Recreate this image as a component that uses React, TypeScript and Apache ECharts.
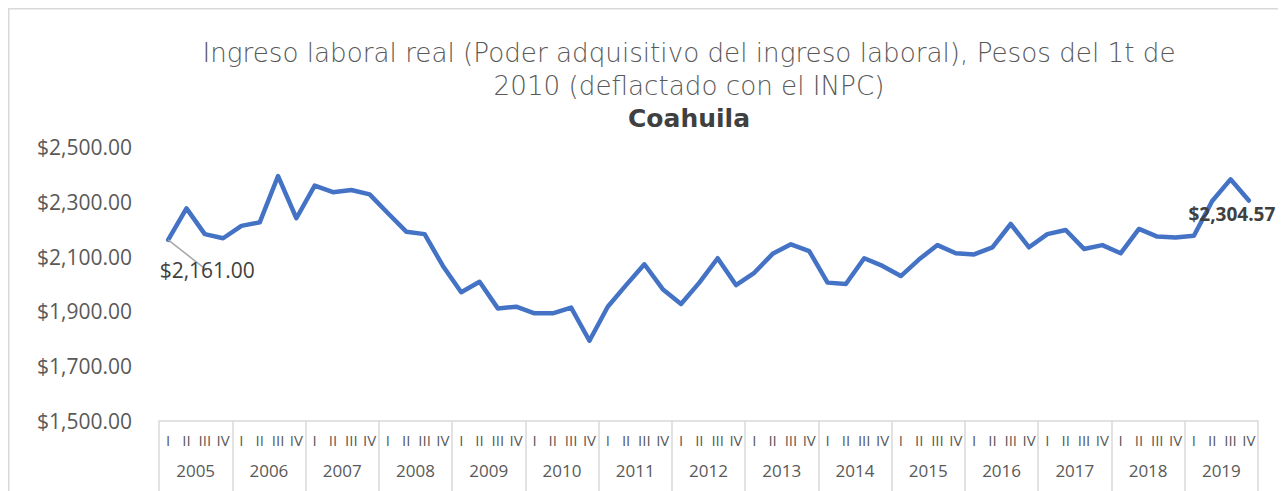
import React, { useEffect, useRef } from "react";
import * as echarts from "echarts";

const years = ["2005","2006","2007","2008","2009","2010","2011","2012","2013","2014","2015","2016","2017","2018","2019"];
const quarterNames = ["I", "II", "III", "IV"];
const quarterLabels: string[] = years.flatMap(() => quarterNames);

const ingresoReal = [
  2161.0, 2276, 2182, 2167,
  2212, 2225, 2394, 2240,
  2359, 2335, 2343, 2327,
  2258, 2191, 2182, 2066,
  1970, 2008, 1911, 1917,
  1893, 1893, 1914, 1793,
  1917, 1996, 2072, 1981,
  1927, 2005, 2094, 1996,
  2041, 2110, 2145, 2120,
  2005, 2000, 2094, 2066,
  2029, 2090, 2142, 2112,
  2108, 2134, 2219, 2134,
  2182, 2197, 2128, 2142,
  2112, 2201, 2173, 2170,
  2176, 2303, 2382, 2304.57,
];

const titleLine1 = "Ingreso laboral real (Poder adquisitivo del ingreso laboral), Pesos del 1t de";
const titleLine2 = "2010 (deflactado con el INPC)";
const titleLine3 = "Coahuila";

const FONT = "'Open Sans', sans-serif";
const TITLE_FONT = "'DejaVu Sans', sans-serif";

const money = (v: number) =>
  "$" + v.toLocaleString("en-US", { minimumFractionDigits: 2, maximumFractionDigits: 2 });

export default function App() {
  const ref = useRef<HTMLDivElement>(null);
  useEffect(() => {
    if (!ref.current) return;
    const chart = echarts.init(ref.current, null, { renderer: "svg" });
    const last = ingresoReal.length - 1;
    const seriesData = ingresoReal.map((v, i) => {
      if (i === 0) {
        return {
          value: v,
          label: {
            show: true,
            position: "bottom",
            offset: [39, 15],
            formatter: () => money(v),
            color: "#404040",
            fontSize: 21,
            fontFamily: FONT,
          },
          labelLine: { show: true, lineStyle: { color: "#a6a6a6", width: 1.5 } },
        };
      }
      if (i === last) {
        return {
          value: v,
          label: {
            show: true,
            position: "bottom",
            offset: [-17, -1],
            formatter: () => money(v),
            color: "#404040",
            fontSize: 19,
            fontWeight: "bold",
            fontFamily: FONT,
          },
        };
      }
      return v;
    });
    chart.setOption({
      animation: false,
      backgroundColor: "#ffffff",
      textStyle: { fontFamily: FONT },
      graphic: [
        { type: "line", shape: { x1: 0.5, y1: 0, x2: 0.5, y2: 483 }, style: { stroke: "#d9d9d9", lineWidth: 2 } },
        { type: "line", shape: { x1: 0, y1: 0.5, x2: 1278, y2: 0.5 }, style: { stroke: "#d9d9d9", lineWidth: 2 } },
        {
          type: "text", x: 681, y: 45,
          style: { text: titleLine1, fill: "#595959", fontSize: 26.2, lineHeight: 30, fontFamily: TITLE_FONT, fontWeight: 300, align: "center", verticalAlign: "middle" },
        },
        {
          type: "text", x: 681, y: 78,
          style: { text: titleLine2, fill: "#595959", fontSize: 26.2, lineHeight: 30, fontFamily: TITLE_FONT, fontWeight: 300, align: "center", verticalAlign: "middle" },
        },
        {
          type: "text", x: 681, y: 110,
          style: { text: titleLine3, fill: "#404040", fontSize: 25, lineHeight: 28, fontFamily: TITLE_FONT, fontWeight: "bold", align: "center", verticalAlign: "middle" },
        },
      ],
      grid: { left: 151, right: 28, top: 139, bottom: 70, containLabel: false },
      xAxis: [
        {
          type: "category",
          data: quarterLabels,
          boundaryGap: true,
          position: "bottom",
          axisLine: { show: true, lineStyle: { color: "#d9d9d9", width: 1.5 } },
          axisTick: { show: false },
          axisLabel: { interval: 0, color: "#595959", fontSize: 15, margin: 11, fontFamily: FONT },
          splitLine: { show: false },
        },
        {
          type: "category",
          data: years,
          boundaryGap: true,
          position: "bottom",
          axisLine: { show: false },
          axisTick: { show: true, length: 72, lineStyle: { color: "#d9d9d9", width: 1.5 } },
          axisLabel: { interval: 0, color: "#595959", fontSize: 17, margin: 41, fontFamily: FONT },
          splitLine: { show: false },
        },
      ],
      yAxis: {
        type: "value",
        min: 1500,
        max: 2500,
        interval: 200,
        axisLine: { show: false },
        axisTick: { show: false },
        splitLine: { show: false },
        axisLabel: { color: "#595959", fontSize: 21, margin: 27, fontFamily: FONT, formatter: (v: number) => money(v) },
      },
      series: [
        {
          type: "line",
          xAxisIndex: 0,
          data: seriesData,
          symbol: "circle",
          symbolSize: 0,
          showSymbol: true,
          lineStyle: { color: "#4472c4", width: 4.5, join: "round", cap: "round" },
          itemStyle: { color: "#4472c4" },
        },
      ],
    });
    return () => chart.dispose();
  }, []);
  return <div ref={ref} style={{ width: 1278, height: 483 }} />;
}
